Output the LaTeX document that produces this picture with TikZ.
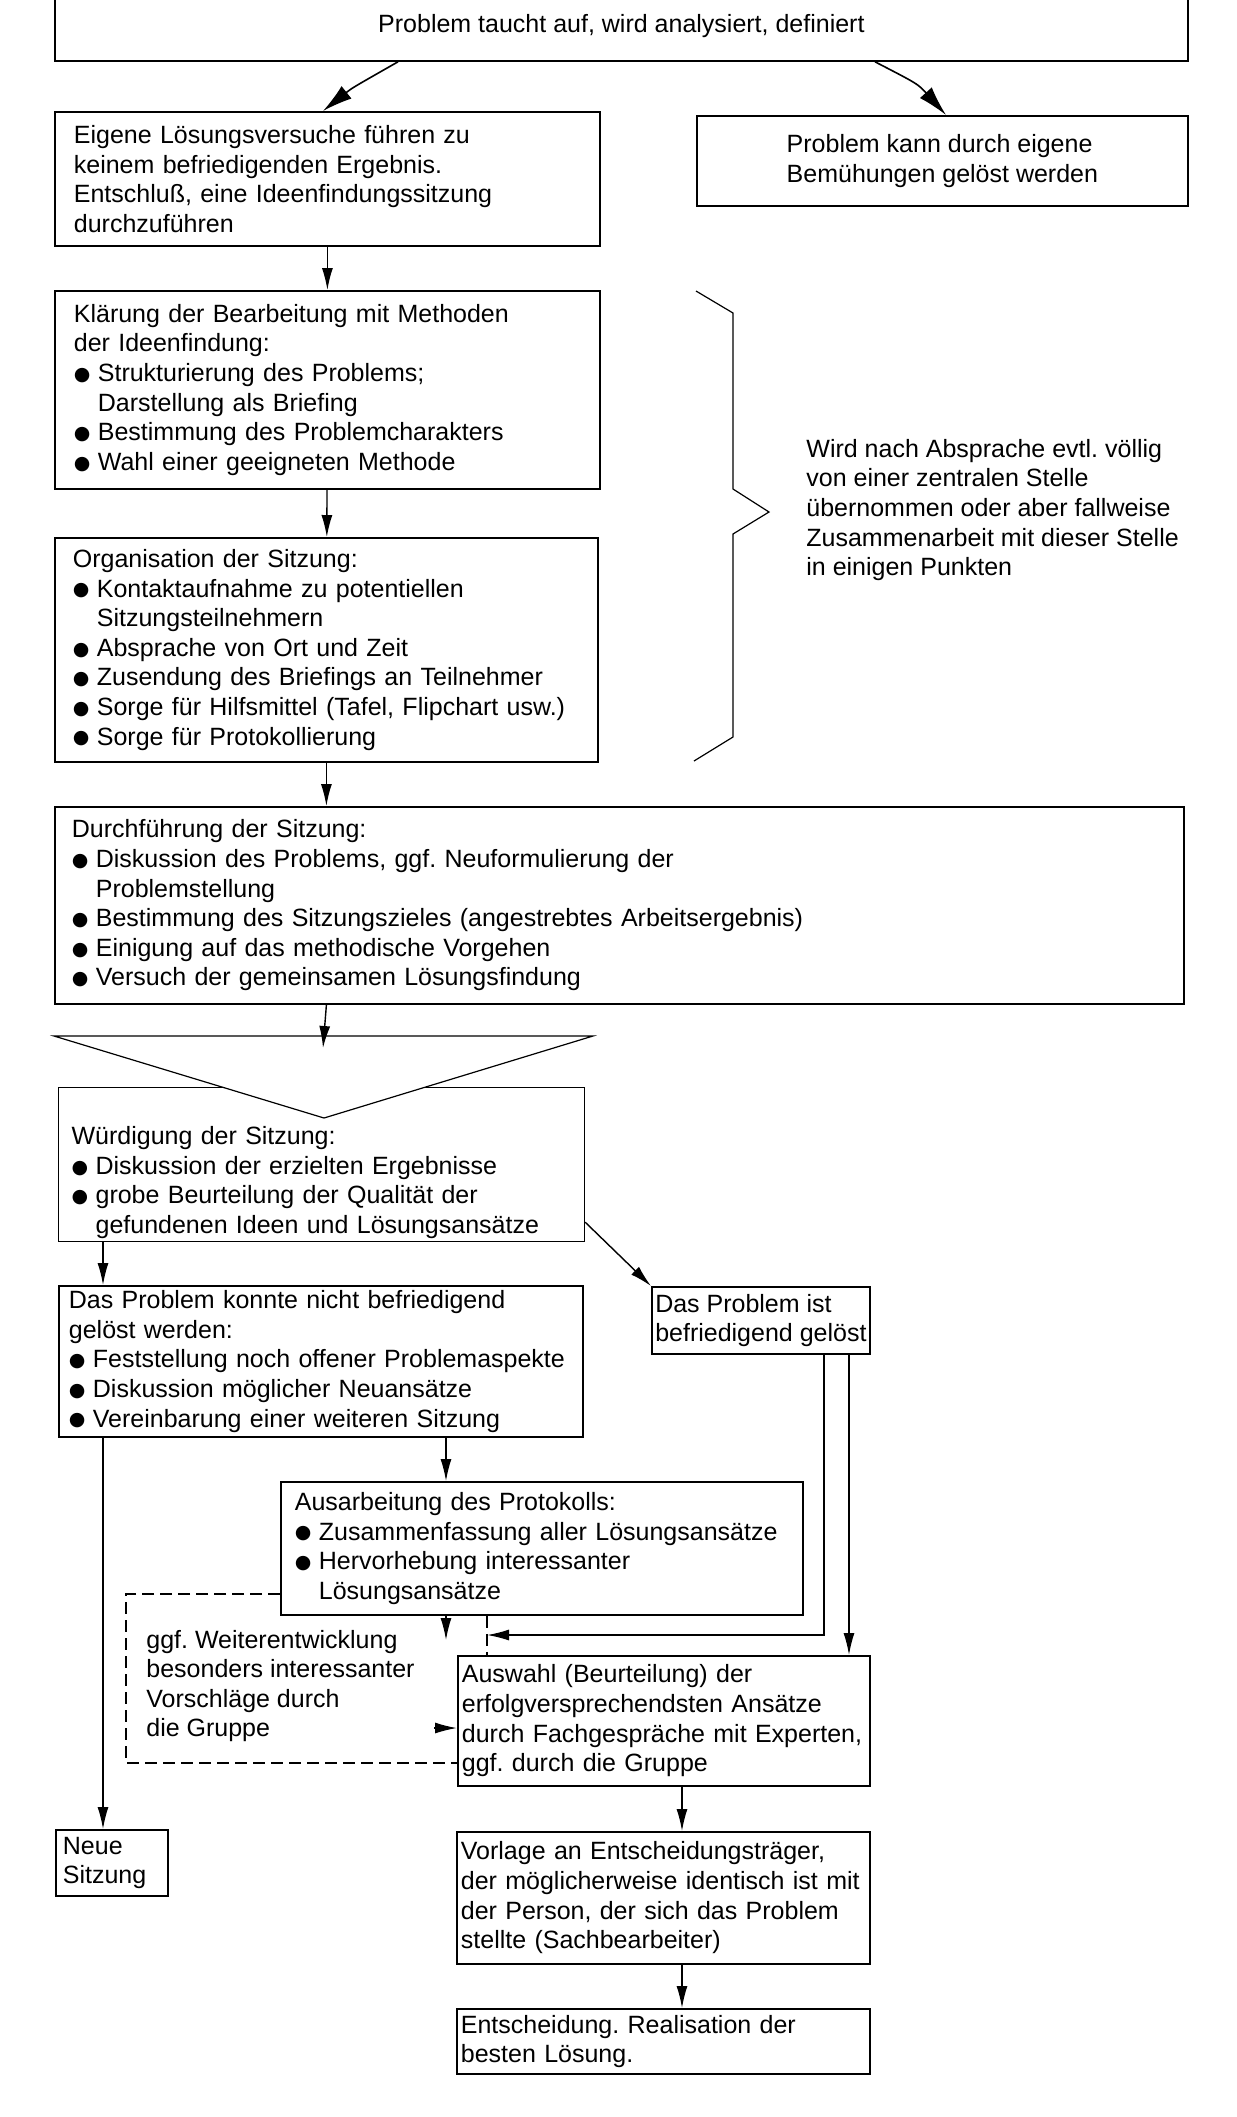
\documentclass[tikz,border=0pt]{standalone}
\usepackage{fontspec}
\setmainfont{Liberation Sans}
\newfontfamily\symbolfont{DejaVu Sans}
\usetikzlibrary{arrows.meta}
\frenchspacing
\newcommand\pkt{\makebox[12pt][l]{\raisebox{0.6pt}{\symbolfont\fontsize{9.5}{9.5}\selectfont ●}}}
\newcommand\weiter{\hspace*{12pt}}
\begin{document}
\begin{tikzpicture}[x=0.5pt,y=-0.5pt,
  every node/.style={font=\fontsize{12.5}{14.8}\selectfont},
  kasten/.style={draw,line width=0.9pt,anchor=north west,align=left,inner ysep=0pt},
  pfeil/.style={line width=0.7pt,-{Latex[length=11pt,width=5.5pt]}},
  grosspfeil/.style={line width=0.8pt,-{Latex[length=15pt,width=8pt]}},
  strich/.style={line width=0.7pt,dash pattern=on 6pt off 3pt},
  duenn/.style={line width=0.6pt}]
\path[use as bounding box,fill=white] (0,0) rectangle (1237,2117);
% Kaesten
\node[draw,line width=0.9pt,anchor=north west,minimum width=566.5pt,minimum height=35pt] (problem) at (54,-10) {Problem taucht auf, wird analysiert, definiert};
\node[kasten,inner xsep=9.5pt,text width=253.5pt,minimum height=67pt] (eigene) at (54,111)
  {Eigene Lösungsversuche führen zu\\keinem befriedigenden Ergebnis.\\Entschluß, eine Ideenfindungssitzung\\durchzuführen};
\node[draw,line width=0.9pt,anchor=north west,align=left,minimum width=245.5pt,minimum height=45pt] (geloest) at (696,115)
  {Problem kann durch eigene\\Bemühungen gelöst werden};
\node[kasten,inner xsep=9.5pt,text width=253.5pt,minimum height=99pt] (klaerung) at (54,290)
  {Klärung der Bearbeitung mit Methoden\\der Ideenfindung:\\\pkt Strukturierung des Problems;\\\weiter Darstellung als Briefing\\\pkt Bestimmung des Problemcharakters\\\pkt Wahl einer geeigneten Methode};
\node[kasten,inner xsep=9pt,text width=253.5pt,minimum height=112pt] (organisation) at (54,537)
  {Organisation der Sitzung:\\\pkt Kontaktaufnahme zu potentiellen\\\weiter Sitzungsteilnehmern\\\pkt Absprache von Ort und Zeit\\\pkt Zusendung des Briefings an Teilnehmer\\\pkt Sorge für Hilfsmittel (Tafel, Flipchart usw.)\\\pkt Sorge für Protokollierung};
\node[anchor=west,align=left,inner sep=0pt] (stelle) at (806,510)
  {Wird nach Absprache evtl. völlig\\von einer zentralen Stelle\\übernommen oder aber fallweise\\Zusammenarbeit mit dieser Stelle\\in einigen Punkten};
\node[kasten,inner xsep=8.5pt,text width=547.5pt,minimum height=98.5pt] (durchfuehrung) at (54,806)
  {Durchführung der Sitzung:\\\pkt Diskussion des Problems, ggf. Neuformulierung der\\\weiter Problemstellung\\\pkt Bestimmung des Sitzungszieles (angestrebtes Arbeitsergebnis)\\\pkt Einigung auf das methodische Vorgehen\\\pkt Versuch der gemeinsamen Lösungsfindung};
\node[kasten,line width=0.6pt,inner xsep=6.5pt,text width=250pt,minimum height=77pt] (wuerdigung) at (58,1087)
  {\rule{0pt}{27pt}Würdigung der Sitzung:\\\pkt Diskussion der erzielten Ergebnisse\\\pkt grobe Beurteilung der Qualität der\\\weiter gefundenen Ideen und Lösungsansätze};
\node[kasten,inner xsep=5pt,text width=252pt,minimum height=75.5pt] (nicht) at (58,1285)
  {Das Problem konnte nicht befriedigend\\gelöst werden:\\\pkt Feststellung noch offener Problemaspekte\\\pkt Diskussion möglicher Neuansätze\\\pkt Vereinbarung einer weiteren Sitzung};
\node[draw,line width=0.9pt,anchor=north west,align=left,inner xsep=1pt,minimum width=109pt,minimum height=33.5pt] (befriedigt) at (651,1286)
  {Das Problem ist\\befriedigend gelöst};
\node[kasten,inner xsep=7pt,text width=247pt,minimum height=66.5pt] (protokoll) at (280,1481)
  {Ausarbeitung des Protokolls:\\\pkt Zusammenfassung aller Lösungsansätze\\\pkt Hervorhebung interessanter\\\weiter Lösungsansätze};
\node[anchor=west,align=left,inner sep=0pt] (weiterentw) at (146,1686)
  {ggf. Weiterentwicklung\\besonders interessanter\\Vorschläge durch\\die Gruppe};
\node[kasten,inner xsep=2pt,text width=202pt,minimum height=65pt] (auswahl) at (457,1655)
  {Auswahl (Beurteilung) der\\erfolgversprechendsten Ansätze\\durch Fachgespräche mit Experten,\\ggf. durch die Gruppe};
\node[kasten,inner xsep=2pt,text width=202.5pt,minimum height=66pt] (vorlage) at (456,1831)
  {Vorlage an Entscheidungsträger,\\der möglicherweise identisch ist mit\\der Person, der sich das Problem\\stellte (Sachbearbeiter)};
\node[kasten,inner xsep=2pt,text width=202.5pt,minimum height=32.5pt] (entscheidung) at (456,2008)
  {Entscheidung. Realisation der\\besten Lösung.};
\node[kasten,inner xsep=3.5pt,text width=49pt,minimum height=33pt] (neu) at (55,1829) {Neue\\Sitzung};
% Klammer
\draw[duenn] (696,291) -- (733,313) -- (733,489) -- (769,512) -- (733,534) -- (733,737) -- (694,761);
% Dreieck
\coordinate (dl) at (54,1036);
\coordinate (dr) at (593,1036);
\coordinate (ds) at (324,1118);
\coordinate (dreieck) at (323,1048);
\draw[duenn,fill=white] (dl) -- (dr) -- (ds) -- cycle;
% Pfeile
\draw[grosspfeil] (398,0 |- problem.south) .. controls (352,88) .. (323,0 |- eigene.north);
\draw[grosspfeil] (875,0 |- problem.south) .. controls (918,84) .. (946,0 |- geloest.north);
\draw[pfeil] (eigene) -- (klaerung);
\draw[pfeil] (klaerung) -- (organisation);
\draw[pfeil] (organisation.south) -- (organisation.south |- durchfuehrung.north);
\draw[pfeil] (organisation.south |- durchfuehrung.south) -- (dreieck);
\draw[pfeil] (103,0 |- wuerdigung.south) -- (103,0 |- nicht.north);
\draw[pfeil] ([yshift=10pt]wuerdigung.south east) -- (befriedigt.north west);
\draw[pfeil] (103,0 |- nicht.south) -- (103,0 |- neu.north);
\draw[pfeil] (446,0 |- nicht.south) -- (446,0 |- protokoll.north);
\coordinate (pfeilende) at (446,1640);
\draw[pfeil] (446,0 |- protokoll.south) -- (pfeilende);
\coordinate (strichziel) at (487,1635);
\draw[pfeil] (824,0 |- befriedigt.south) |- (strichziel);
\draw[pfeil] (849,0 |- befriedigt.south) -- (849,0 |- auswahl.north);
\draw[pfeil] (434,1728) -- (auswahl.west |- 0,1728);
\draw[pfeil] (682,0 |- auswahl.south) -- (682,0 |- vorlage.north);
\draw[pfeil] (682,0 |- vorlage.south) -- (682,0 |- entscheidung.north);
% gestrichelt
\draw[strich] (protokoll.west |- 0,1594) -- (126,1594) -- (126,1763) -- (auswahl.west |- 0,1763);
\draw[strich] (487,0 |- protokoll.south) -- (487,0 |- auswahl.north);
\end{tikzpicture}
\end{document}
